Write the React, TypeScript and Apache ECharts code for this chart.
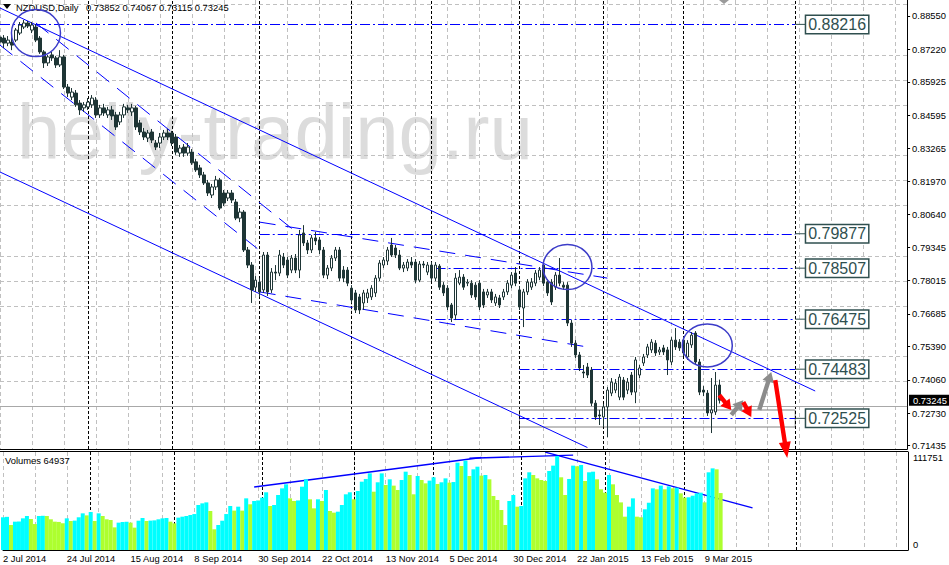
import React, { useEffect, useRef } from 'react';
import * as echarts from 'echarts';

const FONT = '"Liberation Sans", Arial, sans-serif';
const SLOT_COUNT = 228;
const categories = Array.from({ length: SLOT_COUNT }, (_, i) => String(i));

const dateLabels = ['2 Jul 2014', '24 Jul 2014', '15 Aug 2014', '8 Sep 2014', '30 Sep 2014', '22 Oct 2014',
  '13 Nov 2014', '5 Dec 2014', '30 Dec 2014', '22 Jan 2015', '13 Feb 2015', '9 Mar 2015'];

const priceTicks = [0.8855, 0.8722, 0.85925, 0.84595, 0.83265, 0.8197, 0.8064, 0.79345, 0.78015,
  0.76685, 0.7539, 0.7406, 0.7273, 0.71435];

const priceMin = 0.71304;
const priceMax = 0.89187;
const volumeMax = 111751;

// [open, close, low, high]
const ohlc = [
  [0.8771, 0.8751, 0.8719, 0.8787], [0.8767, 0.8747, 0.8727, 0.8779], [0.8747, 0.8759, 0.8735, 0.8775], [0.8751, 0.8739, 0.8719, 0.8791],
  [0.8759, 0.8799, 0.8751, 0.8807], [0.8787, 0.8819, 0.8779, 0.8831], [0.8811, 0.8827, 0.8803, 0.8839], [0.8827, 0.8815, 0.8807, 0.8835],
  [0.8799, 0.8819, 0.8787, 0.8831], [0.8811, 0.8759, 0.8751, 0.8823], [0.8767, 0.8712, 0.8704, 0.8775], [0.8712, 0.8668, 0.8648, 0.8719],
  [0.8668, 0.8692, 0.8656, 0.8700], [0.8700, 0.8688, 0.8676, 0.8712], [0.8688, 0.8660, 0.8648, 0.8696], [0.8660, 0.8692, 0.8652, 0.8719],
  [0.8692, 0.8572, 0.8564, 0.8700], [0.8572, 0.8548, 0.8532, 0.8584], [0.8532, 0.8552, 0.8520, 0.8568], [0.8548, 0.8501, 0.8493, 0.8560],
  [0.8508, 0.8481, 0.8461, 0.8520], [0.8489, 0.8501, 0.8473, 0.8512], [0.8493, 0.8512, 0.8481, 0.8528], [0.8501, 0.8528, 0.8489, 0.8540],
  [0.8520, 0.8461, 0.8449, 0.8532], [0.8461, 0.8489, 0.8449, 0.8501], [0.8489, 0.8469, 0.8457, 0.8505], [0.8461, 0.8481, 0.8449, 0.8493],
  [0.8481, 0.8457, 0.8441, 0.8497], [0.8461, 0.8413, 0.8401, 0.8473], [0.8433, 0.8461, 0.8421, 0.8473], [0.8461, 0.8493, 0.8449, 0.8505],
  [0.8489, 0.8481, 0.8469, 0.8501], [0.8473, 0.8489, 0.8457, 0.8505], [0.8489, 0.8413, 0.8401, 0.8497], [0.8429, 0.8393, 0.8381, 0.8441],
  [0.8393, 0.8373, 0.8361, 0.8409], [0.8369, 0.8389, 0.8353, 0.8401], [0.8393, 0.8361, 0.8349, 0.8405], [0.8349, 0.8333, 0.8321, 0.8361],
  [0.8349, 0.8373, 0.8329, 0.8389], [0.8373, 0.8389, 0.8361, 0.8401], [0.8389, 0.8373, 0.8361, 0.8405], [0.8389, 0.8349, 0.8337, 0.8397],
  [0.8373, 0.8313, 0.8302, 0.8385], [0.8309, 0.8329, 0.8294, 0.8341], [0.8333, 0.8309, 0.8294, 0.8345], [0.8309, 0.8333, 0.8298, 0.8349],
  [0.8313, 0.8270, 0.8262, 0.8325], [0.8274, 0.8242, 0.8234, 0.8286], [0.8250, 0.8222, 0.8210, 0.8262], [0.8222, 0.8190, 0.8182, 0.8234],
  [0.8190, 0.8150, 0.8138, 0.8202], [0.8142, 0.8174, 0.8130, 0.8186], [0.8174, 0.8202, 0.8162, 0.8218], [0.8202, 0.8090, 0.8082, 0.8210],
  [0.8150, 0.8110, 0.8098, 0.8162], [0.8130, 0.8150, 0.8118, 0.8162], [0.8150, 0.8122, 0.8110, 0.8162], [0.8114, 0.8050, 0.8042, 0.8126],
  [0.8050, 0.8074, 0.8034, 0.8090], [0.8074, 0.7923, 0.7915, 0.8082], [0.7923, 0.7863, 0.7851, 0.7935], [0.7863, 0.7764, 0.7712, 0.7875],
  [0.7775, 0.7803, 0.7756, 0.7819], [0.7795, 0.7756, 0.7736, 0.7811], [0.7764, 0.7903, 0.7752, 0.7915], [0.7903, 0.7756, 0.7740, 0.7915],
  [0.7764, 0.7835, 0.7752, 0.7851], [0.7835, 0.7831, 0.7803, 0.7863], [0.7831, 0.7903, 0.7819, 0.7923], [0.7895, 0.7863, 0.7851, 0.7911],
  [0.7883, 0.7823, 0.7811, 0.7895], [0.7843, 0.7891, 0.7831, 0.7903], [0.7891, 0.7843, 0.7831, 0.7907], [0.7843, 0.7983, 0.7811, 0.8003],
  [0.7991, 0.7951, 0.7939, 0.8022], [0.7951, 0.7923, 0.7907, 0.7963], [0.7923, 0.7971, 0.7911, 0.7983], [0.7971, 0.7959, 0.7943, 0.7995],
  [0.7963, 0.7923, 0.7907, 0.7975], [0.7923, 0.7823, 0.7811, 0.7935], [0.7823, 0.7851, 0.7807, 0.7863], [0.7851, 0.7891, 0.7839, 0.7903],
  [0.7891, 0.7923, 0.7879, 0.7935], [0.7923, 0.7811, 0.7799, 0.7935], [0.7843, 0.7811, 0.7795, 0.7859], [0.7843, 0.7791, 0.7779, 0.7855],
  [0.7771, 0.7724, 0.7712, 0.7783], [0.7752, 0.7684, 0.7672, 0.7764], [0.7736, 0.7684, 0.7668, 0.7748], [0.7712, 0.7752, 0.7684, 0.7764],
  [0.7732, 0.7752, 0.7712, 0.7768], [0.7736, 0.7771, 0.7724, 0.7783], [0.7752, 0.7811, 0.7736, 0.7823], [0.7811, 0.7871, 0.7799, 0.7883],
  [0.7863, 0.7883, 0.7851, 0.7895], [0.7879, 0.7923, 0.7863, 0.7935], [0.7943, 0.7903, 0.7895, 0.7971], [0.7931, 0.7903, 0.7891, 0.7943],
  [0.7903, 0.7851, 0.7843, 0.7923], [0.7851, 0.7863, 0.7835, 0.7875], [0.7851, 0.7875, 0.7839, 0.7887], [0.7875, 0.7863, 0.7851, 0.7895],
  [0.7875, 0.7803, 0.7791, 0.7887], [0.7803, 0.7867, 0.7795, 0.7879], [0.7867, 0.7863, 0.7851, 0.7879], [0.7835, 0.7863, 0.7823, 0.7875],
  [0.7863, 0.7811, 0.7799, 0.7875], [0.7811, 0.7863, 0.7799, 0.7875], [0.7859, 0.7775, 0.7764, 0.7867], [0.7783, 0.7752, 0.7740, 0.7795],
  [0.7771, 0.7696, 0.7684, 0.7783], [0.7704, 0.7652, 0.7636, 0.7712], [0.7664, 0.7811, 0.7644, 0.7831], [0.7791, 0.7815, 0.7783, 0.7843],
  [0.7815, 0.7775, 0.7764, 0.7827], [0.7791, 0.7795, 0.7779, 0.7807], [0.7791, 0.7744, 0.7732, 0.7803], [0.7783, 0.7736, 0.7724, 0.7795],
  [0.7791, 0.7696, 0.7684, 0.7803], [0.7756, 0.7704, 0.7692, 0.7768], [0.7744, 0.7756, 0.7732, 0.7768], [0.7756, 0.7724, 0.7712, 0.7768],
  [0.7712, 0.7736, 0.7700, 0.7748], [0.7732, 0.7704, 0.7692, 0.7744], [0.7736, 0.7756, 0.7724, 0.7768], [0.7756, 0.7791, 0.7744, 0.7803],
  [0.7783, 0.7823, 0.7771, 0.7835], [0.7831, 0.7791, 0.7779, 0.7855], [0.7764, 0.7696, 0.7684, 0.7779], [0.7692, 0.7756, 0.7616, 0.7768],
  [0.7756, 0.7795, 0.7744, 0.7807], [0.7775, 0.7795, 0.7764, 0.7811], [0.7791, 0.7831, 0.7779, 0.7843], [0.7815, 0.7843, 0.7803, 0.7855],
  [0.7863, 0.7791, 0.7779, 0.7871], [0.7795, 0.7752, 0.7740, 0.7807], [0.7795, 0.7716, 0.7704, 0.7807], [0.7775, 0.7823, 0.7764, 0.7835],
  [0.7823, 0.7791, 0.7779, 0.7891], [0.7783, 0.7775, 0.7764, 0.7795], [0.7783, 0.7632, 0.7620, 0.7795], [0.7632, 0.7552, 0.7537, 0.7644],
  [0.7552, 0.7505, 0.7493, 0.7564], [0.7505, 0.7453, 0.7441, 0.7517], [0.7437, 0.7433, 0.7413, 0.7465], [0.7457, 0.7425, 0.7413, 0.7473],
  [0.7445, 0.7313, 0.7301, 0.7457], [0.7313, 0.7258, 0.7246, 0.7325], [0.7266, 0.7262, 0.7226, 0.7286], [0.7258, 0.7298, 0.7218, 0.7310],
  [0.7298, 0.7365, 0.7178, 0.7377], [0.7353, 0.7397, 0.7341, 0.7413], [0.7365, 0.7393, 0.7353, 0.7409], [0.7337, 0.7417, 0.7325, 0.7429],
  [0.7405, 0.7337, 0.7325, 0.7417], [0.7365, 0.7397, 0.7349, 0.7413], [0.7425, 0.7357, 0.7345, 0.7437], [0.7357, 0.7485, 0.7313, 0.7497],
  [0.7425, 0.7453, 0.7413, 0.7465], [0.7473, 0.7497, 0.7461, 0.7509], [0.7505, 0.7537, 0.7493, 0.7549], [0.7525, 0.7556, 0.7513, 0.7568],
  [0.7552, 0.7513, 0.7501, 0.7564], [0.7517, 0.7525, 0.7505, 0.7537], [0.7533, 0.7517, 0.7505, 0.7545], [0.7525, 0.7485, 0.7425, 0.7537],
  [0.7477, 0.7564, 0.7465, 0.7576], [0.7564, 0.7537, 0.7525, 0.7612], [0.7556, 0.7533, 0.7521, 0.7568], [0.7564, 0.7513, 0.7501, 0.7576],
  [0.7497, 0.7552, 0.7485, 0.7564], [0.7545, 0.7584, 0.7533, 0.7596], [0.7592, 0.7477, 0.7465, 0.7600], [0.7477, 0.7357, 0.7345, 0.7489],
  [0.7365, 0.7357, 0.7341, 0.7381], [0.7353, 0.7274, 0.7262, 0.7365], [0.7274, 0.7286, 0.7194, 0.7413], [0.7278, 0.7385, 0.7266, 0.7437],
  [0.73852, 0.73245, 0.73115, 0.74067],
];

const volumes = [
  37300, 37800, 28500, 32300, 32500, 36100, 38800, 35300, 29600, 38800,
  39000, 38800, 35000, 32300, 32000, 30400, 36100, 33100, 33500, 37300,
  41800, 39500, 43300, 33100, 41800, 38800, 35000, 34200, 25800, 31200,
  31900, 32200, 31200, 25500, 33400, 36500, 33100, 33500, 33800, 35000,
  36100, 36500, 32300, 30400, 36900, 38000, 38800, 39900, 41000, 51300,
  53200, 54300, 44500, 23600, 28500, 33400, 41000, 50200, 44900, 49400,
  44900, 58900, 52100, 55900, 56500, 59700, 65800, 50200, 51300, 62700,
  70300, 74900, 58900, 55900, 56500, 72200, 80600, 57800, 47500, 57800,
  55900, 68400, 44500, 42600, 43700, 51300, 63500, 65800, 57800, 67300,
  77900, 81000, 87400, 66500, 77200, 87400, 74100, 80600, 73400, 68400,
  79800, 89300, 85500, 63500, 84400, 79800, 76000, 79100, 82900, 75300,
  77200, 81700, 76800, 77500, 99600, 95800, 101900, 84400, 92000, 95000,
  84800, 85500, 80600, 61600, 57000, 45600, 28500, 55900, 62700, 49400,
  50200, 81700, 88600, 85500, 81700, 79800, 78700, 90100, 96200, 107200,
  82900, 62700, 81000, 96200, 95500, 96900, 78700, 88600, 89300, 80600,
  69200, 65400, 85500, 74900, 62700, 54300, 38000, 49400, 58900, 38000,
  37300, 46400, 53900, 70300, 69200, 73400, 69200, 72600, 70300, 71000,
  64600, 59700, 60100, 61900, 64600, 65400, 54300, 88600, 93100, 92000,
  64937,
];

const monthStarts = [22, 43, 65, 88, 108, 130, 151, 171, 199];
const currentPrice = 0.73245;
const headerValues = ['0.73852', '0.74067', '0.73115', '0.73245'];

const levels = [
  { price: 0.88216, fromBar: 0 },
  { price: 0.79877, fromBar: 65 },
  { price: 0.78507, fromBar: 109 },
  { price: 0.76475, fromBar: 109 },
  { price: 0.74483, fromBar: 130 },
  { price: 0.72525, fromBar: 130 },
];
const levelEndBar = 199;
const supportBox = { fromBar: 130, toBar: 199, top: 0.72857, bottom: 0.7218 };

const trendLines = [
  { from: [0, 0.88868], to: [204, 0.73614], dashed: false },
  { from: [0, 0.82336], to: [147, 0.71363], dashed: false },
  { from: [9, 0.8827], to: [75, 0.7983], dashed: true },
  { from: [0, 0.8739], to: [65, 0.7921], dashed: true },
  { from: [65, 0.8034], to: [152, 0.7811], dashed: true },
  { from: [65, 0.7756], to: [148, 0.7534], dashed: true },
];

const volumeLines = [
  { from: [63, 71840], to: [120, 105500] },
  { from: [117, 104600], to: [143, 108300] },
  { from: [136, 111700], to: [188, 47900] },
];

const circles = [
  { bar: 9, price: 0.8787, rx: 24.5, ry: 23.5 },
  { bar: 142, price: 0.7855, rx: 24.5, ry: 22.5 },
  { bar: 177, price: 0.7543, rx: 25, ry: 21.5 },
];

const arrows = [
  { from: [180, 0.7345], to: [183, 0.7286], color: '#FF0000' },
  { from: [183, 0.7266], to: [186, 0.7325], color: '#8C8C8C' },
  { from: [186, 0.7317], to: [188, 0.7258], color: '#FF0000' },
  { from: [190, 0.7286], to: [193, 0.7437], color: '#8C8C8C' },
  { from: [194, 0.7405], to: [197, 0.70945], color: '#FF0000' },
];

const CANDLE = '#1E3535';
const LABEL_COLOR = '#2F4F4F';

function arrowPoints(p0: number[], p1: number[], headLen: number, headHalf: number, shaftHalf: number) {
  const dx = p1[0] - p0[0];
  const dy = p1[1] - p0[1];
  const len = Math.sqrt(dx * dx + dy * dy) || 1;
  const ux = dx / len, uy = dy / len;
  const nx = -uy, ny = ux;
  const bx = p1[0] - ux * headLen, by = p1[1] - uy * headLen;
  return [
    [p0[0] + nx * shaftHalf, p0[1] + ny * shaftHalf],
    [bx + nx * shaftHalf, by + ny * shaftHalf],
    [bx + nx * headHalf, by + ny * headHalf],
    [p1[0], p1[1]],
    [bx - nx * headHalf, by - ny * headHalf],
    [bx - nx * shaftHalf, by - ny * shaftHalf],
    [p0[0] - nx * shaftHalf, p0[1] - ny * shaftHalf],
  ];
}

export default function App() {
  const ref = useRef<HTMLDivElement>(null);

  useEffect(() => {
    document.body.style.margin = '0';
    const el = ref.current!;
    const chart = echarts.init(el, undefined, { renderer: 'svg' });

    const volumeData = volumes.map((v, i) => ({
      value: v,
      itemStyle: { color: i === 0 || v > volumes[i - 1] ? '#00FFFF' : '#ADFF2F' },
    }));

    const option: any = {
      animation: false,
      textStyle: { fontFamily: FONT },
      grid: [
        { left: 0, top: 0, width: 908, height: 449 },
        { left: 0, top: 452, width: 908, height: 98 },
      ],
      xAxis: [
        {
          gridIndex: 0, type: 'category', data: categories, boundaryGap: false, z: 1,
          axisLine: { show: true, lineStyle: { color: '#000', width: 1 } },
          axisTick: { show: false }, axisLabel: { show: false },
          splitLine: { show: true, interval: 7, lineStyle: { color: '#C0C0C0', type: [4, 3], width: 1 } },
        },
        {
          gridIndex: 1, type: 'category', data: categories, boundaryGap: false, z: 1,
          axisLine: { show: true, lineStyle: { color: '#000', width: 1 } },
          axisTick: { show: false },
          axisLabel: {
            show: true, interval: 15, align: 'left', margin: 4, fontSize: 9.4, color: '#000', fontFamily: FONT,
            formatter: (_v: string, idx: number) => (idx % 16 === 0 && idx / 16 < dateLabels.length ? dateLabels[idx / 16] : ''),
          },
          splitLine: { show: true, interval: 7, lineStyle: { color: '#C0C0C0', type: [4, 3], width: 1 } },
        },
      ],
      yAxis: [
        {
          gridIndex: 0, type: 'value', position: 'right', min: priceMin, max: priceMax, z: 1,
          splitLine: { show: false },
          axisLine: { show: true, lineStyle: { color: '#000', width: 1 } },
          axisTick: { show: true, length: 3, customValues: priceTicks, lineStyle: { color: '#000' } },
          axisLabel: {
            show: true, customValues: priceTicks, margin: 5, fontSize: 9.4, color: '#000', fontFamily: FONT,
            formatter: (v: number) => v.toFixed(5),
          },
        },
        {
          gridIndex: 1, type: 'value', position: 'right', min: 0, max: volumeMax, z: 1,
          splitLine: { show: false },
          axisLine: { show: true, lineStyle: { color: '#000', width: 1 } },
          axisTick: { show: false }, axisLabel: { show: false },
        },
      ],
      series: [
        {
          type: 'line', xAxisIndex: 0, yAxisIndex: 0, data: [], z: 1, silent: true,
          markLine: {
            silent: true, symbol: ['none', 'none'], label: { show: false }, animation: false,
            data: [
              ...priceTicks.map((v) => ({ yAxis: v, lineStyle: { color: '#C0C0C0', type: [4, 3], width: 1 } })),
              ...monthStarts.map((b) => ({ xAxis: b, lineStyle: { color: '#000', type: [3, 2], width: 1 } })),
              { yAxis: currentPrice, lineStyle: { color: '#A8A8A8', type: 'solid', width: 1 } },
            ],
          },
        },
        {
          type: 'line', xAxisIndex: 1, yAxisIndex: 1, data: [], z: 1, silent: true,
          markLine: {
            silent: true, symbol: ['none', 'none'], label: { show: false }, animation: false,
            data: monthStarts.map((b) => ({ xAxis: b, lineStyle: { color: '#000', type: [3, 2], width: 1 } })),
          },
        },
        {
          type: 'candlestick', xAxisIndex: 0, yAxisIndex: 0, data: ohlc, barWidth: 3, z: 5,
          itemStyle: { color: '#FFFFFF', color0: CANDLE, borderColor: CANDLE, borderColor0: CANDLE, borderWidth: 1 },
        },
        {
          type: 'bar', xAxisIndex: 1, yAxisIndex: 1, data: volumeData, barWidth: 4, z: 5,
        },
        {
          type: 'line', xAxisIndex: 0, yAxisIndex: 0, data: [], z: 10, silent: true,
          markLine: {
            silent: true, symbol: ['none', 'none'], label: { show: false }, animation: false,
            data: [
              ...trendLines.map((t) => [
                { coord: t.from, lineStyle: { color: '#0000FF', width: 1, type: t.dashed ? [16, 10] : 'solid' } },
                { coord: t.to },
              ]),
              ...levels.map((l) => [
                { coord: [l.fromBar, l.price], lineStyle: { color: '#0000FF', width: 1, type: [10, 3, 2, 3] } },
                { coord: [levelEndBar, l.price] },
              ]),
            ],
          },
          markArea: {
            silent: true,
            itemStyle: { color: 'rgba(0,0,0,0)', borderColor: '#808080', borderWidth: 1 },
            data: [[{ coord: [supportBox.fromBar, supportBox.top] }, { coord: [supportBox.toBar, supportBox.bottom] }]],
          },
        },
        {
          type: 'line', xAxisIndex: 1, yAxisIndex: 1, data: [], z: 10, silent: true,
          markLine: {
            silent: true, symbol: ['none', 'none'], label: { show: false }, animation: false,
            data: volumeLines.map((t) => [
              { coord: t.from, lineStyle: { color: '#0000FF', width: 1.3, type: 'solid' } },
              { coord: t.to },
            ]),
          },
        },
      ],
    };

    chart.setOption(option);

    const px = (bar: number, price: number) => chart.convertToPixel({ gridIndex: 0 }, [bar, price]) as number[];

    const graphics: any[] = [];
    graphics.push({
      type: 'text', x: 17, y: 132, z: -1, silent: true,
      style: { text: 'helly-trading.ru', font: `78px ${FONT}`, fill: '#DCDCDC', textVerticalAlign: 'middle', verticalAlign: 'middle' },
    });
    graphics.push({
      type: 'polygon', z: 30, silent: true,
      shape: { points: [[3, 4], [11, 4], [7, 9]] }, style: { fill: '#000' },
    });
    graphics.push({
      type: 'text', x: 16, y: 7, z: 30, silent: true,
      style: { text: 'NZDUSD,Daily', font: `9.4px ${FONT}`, fill: '#000', textVerticalAlign: 'middle', verticalAlign: 'middle' },
    });
    graphics.push({
      type: 'text', x: 86, y: 7, z: 30, silent: true,
      style: { text: headerValues.join(' '), font: `9.4px ${FONT}`, fill: '#000', textVerticalAlign: 'middle', verticalAlign: 'middle' },
    });
    graphics.push({
      type: 'text', x: 5, y: 460, z: 30, silent: true,
      style: { text: 'Volumes ' + volumes[volumes.length - 1], font: `9.4px ${FONT}`, fill: '#000', textVerticalAlign: 'middle', verticalAlign: 'middle' },
    });
    graphics.push({
      type: 'text', x: 913, y: 457, z: 30, silent: true,
      style: { text: String(volumeMax), font: `9.4px ${FONT}`, fill: '#000', textVerticalAlign: 'middle', verticalAlign: 'middle' },
    });
    graphics.push({
      type: 'text', x: 913, y: 544, z: 30, silent: true,
      style: { text: '0', font: `9.4px ${FONT}`, fill: '#000', textVerticalAlign: 'middle', verticalAlign: 'middle' },
    });
    graphics.push({
      type: 'line', z: 30, silent: true,
      shape: { x1: 0, y1: 451.5, x2: 908, y2: 451.5 }, style: { stroke: '#000', lineWidth: 1 },
    });

    const cp = px(0, currentPrice);
    graphics.push({
      type: 'text', x: 909, y: cp[1], z: 40, silent: true,
      style: {
        text: currentPrice.toFixed(5), font: `9.4px ${FONT}`, fill: '#FFFFFF', backgroundColor: '#000',
        padding: [1, 3, 1, 4], textVerticalAlign: 'middle', verticalAlign: 'middle',
      },
    });

    levels.forEach((l) => {
      const e = px(levelEndBar, l.price);
      graphics.push({
        type: 'line', z: 30, silent: true,
        shape: { x1: e[0], y1: e[1], x2: e[0] + 11, y2: e[1] }, style: { stroke: LABEL_COLOR, lineWidth: 1 },
      });
      graphics.push({
        type: 'text', x: e[0] + 11, y: e[1], z: 30, silent: true,
        style: {
          text: l.price.toFixed(5), font: `16px ${FONT}`, fill: LABEL_COLOR, backgroundColor: '#FFFFFF',
          borderColor: LABEL_COLOR, borderWidth: 1.5, padding: [1, 2, 0, 2],
          textVerticalAlign: 'middle', verticalAlign: 'middle',
        },
      });
    });

    circles.forEach((c) => {
      const p = px(c.bar, c.price);
      graphics.push({
        type: 'ellipse', z: 30, silent: true,
        shape: { cx: p[0], cy: p[1], rx: c.rx, ry: c.ry },
        style: { fill: 'none', stroke: '#3C3CC8', lineWidth: 1.5 },
      });
    });

    arrows.forEach((a, idx) => {
      const p0 = px(a.from[0], a.from[1]);
      const p1 = px(a.to[0], a.to[1]);
      const big = idx === arrows.length - 1;
      graphics.push({
        type: 'polygon', z: 35, silent: true,
        shape: { points: arrowPoints(p0, p1, big ? 16 : 10, 6, 2.2) },
        style: { fill: a.color },
      });
    });

    graphics.push({
      type: 'polygon', z: 35, silent: true,
      shape: { points: [[719, 0], [729, 0], [724, 4]] }, style: { fill: '#9A9A9A' },
    });

    chart.setOption({ graphic: graphics });

    return () => chart.dispose();
  }, []);

  return <div ref={ref} style={{ width: 949, height: 565 }} />;
}
